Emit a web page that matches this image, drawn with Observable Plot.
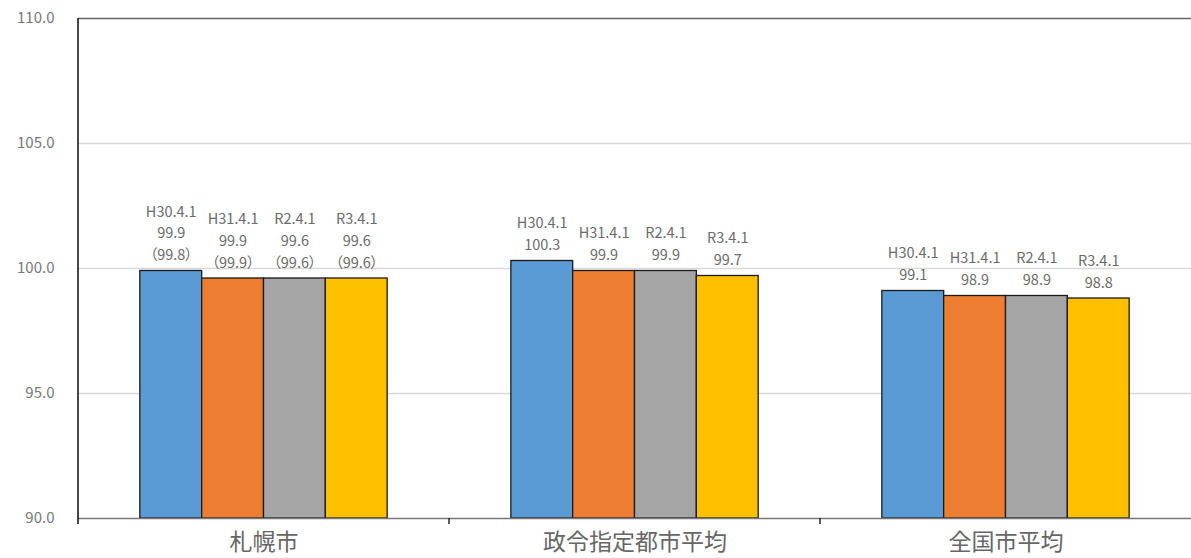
<!DOCTYPE html>
<html>
<head>
<meta charset="utf-8">
<script src="https://cdn.jsdelivr.net/npm/d3@7"></script>
<script src="https://cdn.jsdelivr.net/npm/@observablehq/plot@0.6"></script>
<style>
  html, body { margin: 0; padding: 0; background: #fff; }
  #chart svg { display: block; }
</style>
</head>
<body>
<div id="chart"></div>
<script>
// Categories and series
const categories = ["札幌市", "政令指定都市平均", "全国市平均"];
const dates = ["H30.4.1", "H31.4.1", "R2.4.1", "R3.4.1"];

// Bar heights as drawn
const sapporoValues = [99.9, 99.6, 99.6, 99.6];
const seireiValues = [100.3, 99.9, 99.9, 99.7];
const zenkokuValues = [99.1, 98.9, 98.9, 98.8];

// Label texts
const sapporoLabels = ["99.9", "99.9", "99.6", "99.6"];
const sapporoParen = ["99.8", "99.9", "99.6", "99.6"];
const seireiLabels = ["100.3", "99.9", "99.9", "99.7"];
const zenkokuLabels = ["99.1", "98.9", "98.9", "98.8"];

const yTicks = [90, 95, 100, 105, 110];
const gridTicks = [95, 100, 105];
const colors = ["#5B9BD5", "#ED7D31", "#A5A5A5", "#FFC000"];

const series = [
  {cat: categories[0], values: sapporoValues, labels: sapporoLabels, paren: sapporoParen},
  {cat: categories[1], values: seireiValues, labels: seireiLabels, paren: null},
  {cat: categories[2], values: zenkokuValues, labels: zenkokuLabels, paren: null}
];

const data = [];
for (const s of series) {
  dates.forEach((d, i) => {
    let text = d + "\n" + s.labels[i];
    if (s.paren) text += "\n（" + s.paren[i] + "）";
    data.push({cat: s.cat, date: d, value: s.values[i], text});
  });
}

const font = "'Noto Sans CJK JP', 'Noto Sans', sans-serif";

const chart = Plot.plot({
  width: 1191,
  height: 558,
  marginLeft: 78,
  marginRight: 0,
  marginTop: 18,
  marginBottom: 40,
  style: {fontFamily: font, background: "#fff", overflow: "hidden"},
  fx: {domain: categories, padding: 0, label: null, round: false},
  x: {domain: dates, paddingInner: 0, paddingOuter: 1, axis: null, round: false},
  y: {domain: [90, 110], label: null},
  color: {domain: dates, range: colors},
  marks: [
    Plot.gridY(gridTicks, {stroke: "#d9d9d9", strokeOpacity: 1, strokeWidth: 1.3}),
    Plot.ruleY([110], {stroke: "#666", strokeWidth: 1.5}),
    Plot.barY(data, {fx: "cat", x: "date", y1: 90, y2: "value", fill: "date", stroke: "#1a1a1a", strokeWidth: 1.3}),
    Plot.ruleY([90], {stroke: "#777", strokeWidth: 1.6}),
    Plot.text(data, {
      fx: "cat", x: "date", y: "value", text: "text",
      lineAnchor: "bottom", dy: -11, lineHeight: 1.5,
      fill: "#6b6b6b", fontSize: 14.5
    }),
    Plot.axisY(yTicks, {
      tickSize: 0, tickPadding: 24, fontSize: 15, fill: "#777",
      tickFormat: d => d.toFixed(1), label: null
    }),
    Plot.axisFx({anchor: "bottom", tickSize: 0, tickPadding: 15, fontSize: 23, fill: "#666", label: null})
  ]
});

document.getElementById("chart").appendChild(chart);

// left axis line and category boundary ticks, positioned through the library's scales
const fxs = chart.scale("fx");
const ys = chart.scale("y");
const band = d3.scaleBand().domain(fxs.domain).range(fxs.range).padding(0);
const yTop = ys.apply(110), yBot = ys.apply(90);
const svg = d3.select(chart);
const g = svg.append("g").attr("stroke", "#1a1a1a");
g.append("line").attr("x1", fxs.range[0]).attr("x2", fxs.range[0])
  .attr("y1", yTop).attr("y2", yBot + 6).attr("stroke-width", 1.6);
fxs.domain.slice(1).forEach(c => {
  const x = band(c);
  g.append("line").attr("x1", x).attr("x2", x).attr("y1", yBot).attr("y2", yBot + 6).attr("stroke-width", 1.4);
});
// proportional glyphs for full-width parentheses
svg.selectAll("text").style("font-feature-settings", "'palt'");
</script>
</body>
</html>
